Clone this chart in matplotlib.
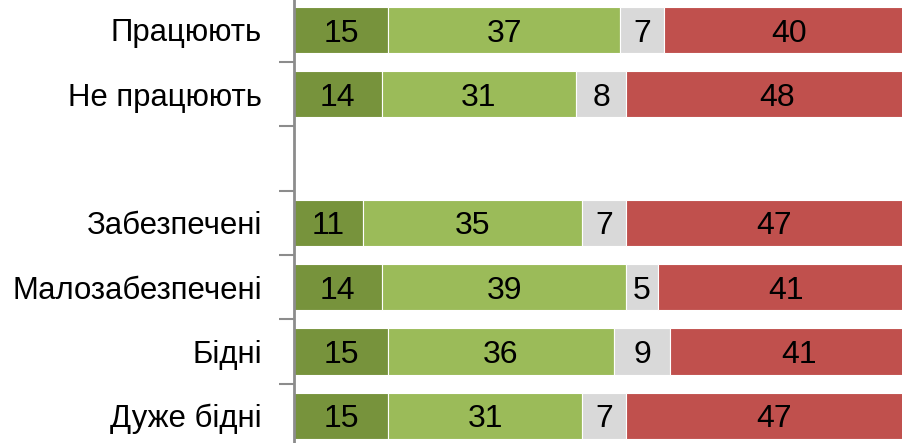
import matplotlib
matplotlib.use("Agg")
import matplotlib.pyplot as plt
from matplotlib import font_manager as fm

categories = ["Працюють", "Не працюють", "", "Забезпечені", "Малозабезпечені", "Бідні", "Дуже бідні"]
s1 = [15, 14, None, 11, 14, 15, 15]
s2 = [37, 31, None, 35, 39, 36, 31]
s3 = [7, 8, None, 7, 5, 9, 7]
s4 = [40, 48, None, 47, 41, 41, 47]
series = [s1, s2, s3, s4]
colors = ["#77933C", "#9BBB59", "#D9D9D9", "#C0504D"]

names = {f.name for f in fm.fontManager.ttflist}
fam = ["Liberation Sans Narrow", "Liberation Sans", "DejaVu Sans"]
fam = [f for f in fam if f in names] + ["DejaVu Sans"]
plt.rcParams['font.family'] = fam

W, H = 902, 443
fig = plt.figure(figsize=(W / 100, H / 100), dpi=100)
n = len(categories)
row = 64.3
top_px = 30 - row / 2
bot_px = top_px + row * n
left_px = 294
unit = 6.27
ax = fig.add_axes([left_px / W, 1 - bot_px / H, 100 * unit / W, (bot_px - top_px) / H])

ys = list(range(n))
for i in range(n):
    if s1[i] is None:
        continue
    left = 0
    for s, c in zip(series, colors):
        v = s[i]
        ax.barh(i, v, left=left, height=0.72, color=c, edgecolor="white", linewidth=0.8)
        ax.text(left + v / 2, i, str(v), ha="center", va="center_baseline", fontsize=23, color="black")
        left += v

ax.set_xlim(0, 100)
ax.set_ylim(n - 0.5, -0.5)
ax.set_yticks(ys)
ax.set_yticklabels(categories, fontsize=22.4)
for lab in ax.get_yticklabels():
    lab.set_verticalalignment("center_baseline")
ax.tick_params(axis="y", which="major", length=0, pad=23)
ax.set_yticks([k + 0.5 for k in range(-1, n)], minor=True)
ax.tick_params(axis="y", which="minor", length=11, width=1.5, color="#8C8C8C", direction="out")
ax.set_xticks([])
for sp in ["top", "right", "bottom"]:
    ax.spines[sp].set_visible(False)
ax.spines["left"].set_color("#8C8C8C")
ax.spines["left"].set_linewidth(2)
fig.savefig("out.png", dpi=100)
